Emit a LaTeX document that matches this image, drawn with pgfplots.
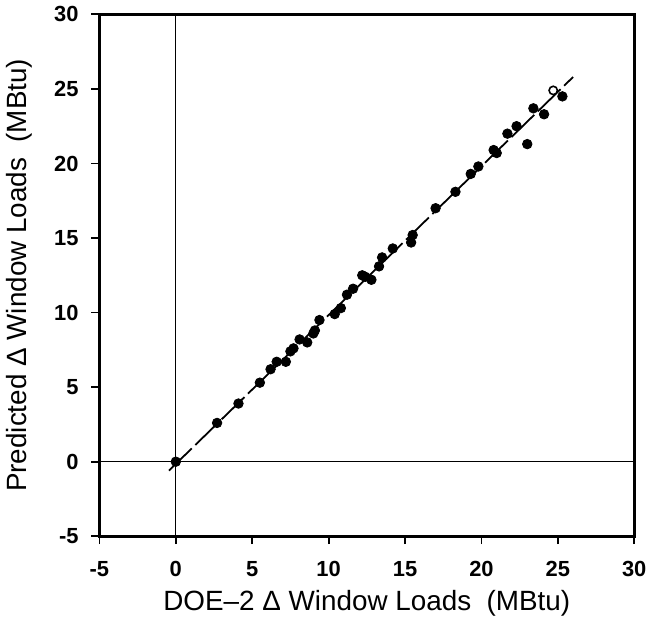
\documentclass[border=0pt]{standalone}
\usepackage{fontspec}
\setmainfont{Liberation Sans}
\usepackage{pgfplots}
\pgfplotsset{compat=1.18}
\begin{document}
\begin{tikzpicture}
\begin{axis}[
  scale only axis,
  width=269pt, height=262.5pt,
  xmin=-5, xmax=30, ymin=-5, ymax=30,
  xtick={-5,0,...,30}, ytick={-5,0,...,30},
  axis line style={line width=1.7pt},
  tick style={line width=0.9pt, black},
  major tick length=4pt,
  tick align=outside,
  xtick pos=bottom, ytick pos=left,
  /pgf/number format/assume math mode=true,
  tick label style={font=\fontsize{11}{13}\selectfont\bfseries},
  yticklabel style={xshift=-3pt},
  xticklabel style={yshift=-5pt},
  xlabel={DOE{\textendash}2 Δ Window Loads\ \ (MBtu)},
  ylabel={Predicted Δ Window Loads\ \ (MBtu)},
  label style={font=\fontsize{14}{16}\selectfont},
  xlabel style={yshift=0pt},
  ylabel style={yshift=4pt},
  clip=false,
]
\addplot[black, line width=0.5pt, forget plot] coordinates {(0,-5) (0,30)};
\addplot[black, line width=0.5pt, forget plot] coordinates {(-5,0) (30,0)};
\addplot[black, line width=0.9pt, dash pattern=on 16pt off 2.5pt] coordinates {(-0.45,-0.6) (26.0,25.8)};
\addplot[only marks, mark=*, mark size=2.4pt, black] table {
x y
0 0
2.7 2.6
4.1 3.9
5.5 5.3
6.2 6.2
6.6 6.7
7.2 6.7
7.5 7.4
7.7 7.6
8.1 8.2
8.6 8.0
9.0 8.6
9.1 8.8
9.4 9.5
10.4 9.9
10.8 10.3
11.2 11.2
11.6 11.6
12.2 12.5
12.4 12.4
12.8 12.2
13.3 13.1
13.5 13.7
14.2 14.3
15.4 14.7
15.5 15.2
17.0 17.0
18.3 18.1
19.3 19.3
19.8 19.8
20.8 20.9
21.0 20.7
21.7 22.0
22.3 22.5
23.0 21.3
23.4 23.7
24.1 23.3
25.3 24.5
};
\addplot[only marks, mark=*, mark size=2.1pt, black, mark options={fill=white, line width=0.8pt}] coordinates {(24.7,24.9)};
\end{axis}
\end{tikzpicture}
\end{document}
